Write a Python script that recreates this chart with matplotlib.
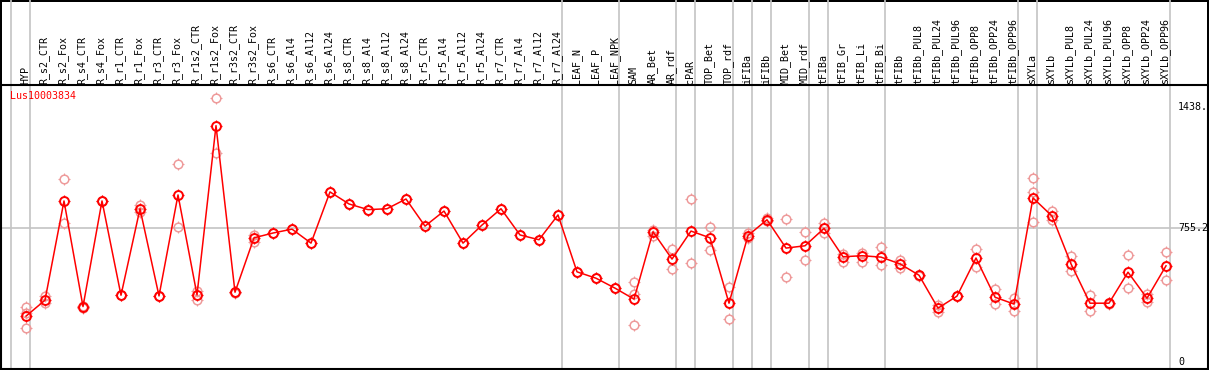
import matplotlib
matplotlib.use("Agg")
import matplotlib.pyplot as plt
from matplotlib.path import Path
from matplotlib.transforms import blended_transform_factory

GENE = "Lus10003834"

samples = [
    "HYP", "R_s2_CTR", "R_s2_Fox", "R_s4_CTR", "R_s4_Fox", "R_r1_CTR", "R_r1_Fox",
    "R_r3_CTR", "R_r3_Fox", "R_r1s2_CTR", "R_r1s2_Fox", "R_r3s2_CTR", "R_r3s2_Fox",
    "R_s6_CTR", "R_s6_Al4", "R_s6_Al12", "R_s6_Al24", "R_s8_CTR", "R_s8_Al4",
    "R_s8_Al12", "R_s8_Al24", "R_r5_CTR", "R_r5_Al4", "R_r5_Al12", "R_r5_Al24",
    "R_r7_CTR", "R_r7_Al4", "R_r7_Al12", "R_r7_Al24", "LEAF_N", "LEAF_P", "LEAF_NPK",
    "SAM", "AR_Bet", "AR_rdf", "cPAR", "TOP_Bet", "TOP_rdf", "iFIBa", "iFIBb",
    "MID_Bet", "MID_rdf", "tFIBa", "tFIB_Gr", "tFIB_Li", "tFIB_Bi", "tFIBb",
    "tFIBb_PUL8", "tFIBb_PUL24", "tFIBb_PUL96", "tFIBb_OPP8", "tFIBb_OPP24",
    "tFIBb_OPP96", "sXYLa", "sXYLb", "sXYLb_PUL8", "sXYLb_PUL24", "sXYLb_PUL96",
    "sXYLb_OPP8", "sXYLb_OPP24", "sXYLb_OPP96",
]

# mean expression per sample
means = [
    257, 347, 907, 311, 907, 375, 863, 371, 941, 377, 1332, 392, 699,
    726, 748, 669, 958, 890, 858, 863, 918, 765, 850, 669, 771,
    863, 715, 688, 828, 507, 471, 415,
    353, 733, 579, 737, 699, 330, 712, 801,
    641, 654, 752, 592, 598, 590, 552,
    488, 302, 370, 585, 364,
    325, 924, 822, 552, 330, 330,
    505, 358, 541,
]

# individual replicates per sample
replicates = [
    [308, 273, 189], [371, 330], [1031, 782], [305, 317], [904, 909], [374, 377],
    [882, 846], [370, 372], [1116, 760], [400, 347], [1489, 1178], [390, 394],
    [716, 678], [726], [748], [669], [958], [890], [858], [863], [918], [765],
    [850], [669], [771], [863], [715], [688], [828], [507], [471], [415],
    [449, 383, 206], [744, 712], [635, 522], [918, 556], [760, 630], [421, 240],
    [726, 698], [811, 795], [805, 477], [732, 573], [784, 726], [609, 564],
    [616, 564], [647, 543], [571, 531], [486, 490], [321, 283], [368, 372],
    [635, 534], [409, 325], [360, 285], [1037, 959, 788], [848, 797],
    [598, 509], [375, 285], [328, 332], [601, 413], [384, 334], [618, 460],
]

# last sample index of each tissue group (-1 = left edge)
group_ends = [-1, 0, 28, 31, 34, 35, 37, 38, 39, 41, 42, 45, 52, 53, 60]

y_ticks = [0, 755.2, 1438.4]
y_tick_text = ["0", "755.2", "1438."]

W, H = 1209, 370
fig = plt.figure(figsize=(W / 100, H / 100), dpi=100)
fig.patch.set_edgecolor("black")
fig.patch.set_linewidth(1.5)

# plot area in pixels: x 1..1208, y 85..369
ax = fig.add_axes([1 / W, 1 / H, 1207 / W, 284 / H])
ax.set_xlim((1 - 26) / 19, (1208 - 26) / 19)
ax.set_ylim(-41.3, 1561.3)
ax.set_xticks([])
ax.set_yticks([])
for s in ax.spines.values():
    s.set_linewidth(1.5)

grey = "#c4c4c4"
ax.axhline(y_ticks[1], color=grey, lw=1.2, zorder=1)
for g in group_ends:
    ax.axvline(g + 0.23, ymin=0, ymax=1.31, color=grey, lw=1.2, clip_on=False, zorder=1)

# tick decorations around circles
ticks_path = Path(
    [(0, 1.0), (0, 1.45), (0, -1.0), (0, -1.45), (1.0, 0), (1.45, 0), (-1.0, 0), (-1.45, 0)],
    [Path.MOVETO, Path.LINETO] * 4,
)

xs = list(range(len(samples)))
rep_x = [i for i, r in enumerate(replicates) for _ in r]
rep_y = [v for r in replicates for v in r]
ax.plot(rep_x, rep_y, ls="none", marker="o", ms=6.2, mfc="none", mec="#ee9a9a", mew=1.1, zorder=2)
ax.plot(rep_x, rep_y, ls="none", marker=ticks_path, ms=8, mec="#ee9a9a", mew=0.8, zorder=2)

ax.plot(xs, means, color="red", lw=1.1, marker="o", ms=6.4, mfc="none", mec="red", mew=1.4, zorder=3)
ax.plot(xs, means, ls="none", marker=ticks_path, ms=8.5, mec="red", mew=0.9, zorder=3)

mono = "DejaVu Sans Mono"
ax.text(9 / 1207, 1 - 6 / 284, GENE, transform=ax.transAxes, color="red",
        fontsize=7.2, family=mono, ha="left", va="top")

for v, t in zip(y_ticks, y_tick_text):
    ax.text((1178 - 1) / 1207, v, t, transform=blended_transform_factory(ax.transAxes, ax.transData),
            fontsize=7.2, family=mono, ha="left", va="center", clip_on=False)

trans = blended_transform_factory(ax.transData, fig.transFigure)
for i, name in enumerate(samples):
    fig.text(i - 0.05, (H - 84) / H, name, transform=trans, rotation=90, fontsize=7.2,
             family=mono, ha="center", va="bottom")

fig.savefig("out.png", dpi=100)
